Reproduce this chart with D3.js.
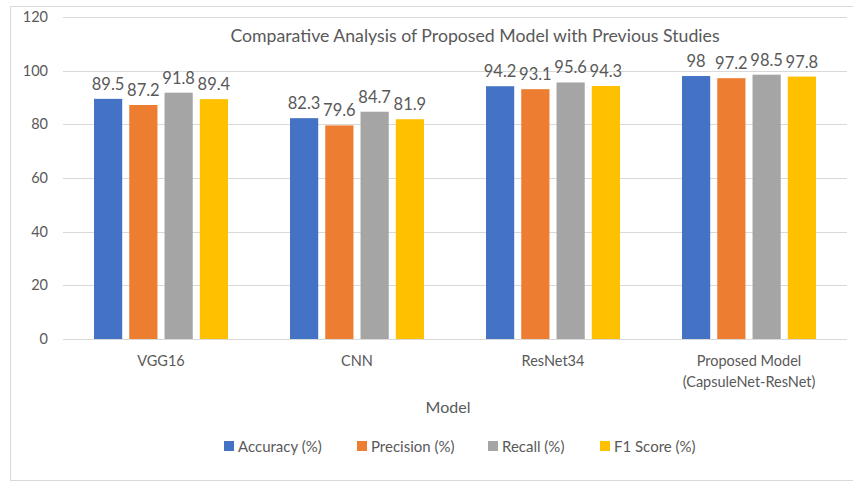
<!DOCTYPE html>
<html>
<head>
<meta charset="utf-8">
<style>
  body { margin: 0; background: #fff; }
  text { font-family: Lato, "Open Sans", sans-serif; fill: #595959; }
</style>
</head>
<body>
<svg width="853" height="483"></svg>
<script src="https://cdn.jsdelivr.net/npm/d3@7"></script>
<script>
var categories = ["VGG16", "CNN", "ResNet34", "Proposed Model\n(CapsuleNet-ResNet)"];
var series = ["Accuracy (%)", "Precision (%)", "Recall (%)", "F1 Score (%)"];
var accuracy = [89.5, 82.3, 94.2, 98];
var precision = [87.2, 79.6, 93.1, 97.2];
var recall = [91.8, 84.7, 95.6, 98.5];
var f1 = [89.4, 81.9, 94.3, 97.8];
var yTicks = [0, 20, 40, 60, 80, 100, 120];
var colors = ["#4472C4", "#ED7D31", "#A5A5A5", "#FFC000"];

var values = [accuracy, precision, recall, f1];

var svg = d3.select("svg");

// chart frame
svg.append("rect")
    .attr("x", 10.5).attr("y", 6.5)
    .attr("width", 850).attr("height", 474)
    .attr("fill", "none").attr("stroke", "#d9d9d9");

var y = d3.scaleLinear().domain([0, 120]).range([339, 17]);
var x0 = d3.scaleBand().domain(categories).range([63, 847]);
var x1 = d3.scaleBand().domain(series).range([31, 165]).paddingInner(0.2);
var color = d3.scaleOrdinal().domain(series).range(colors);

// gridlines
svg.append("g").selectAll("line")
    .data(yTicks)
    .enter().append("line")
      .attr("x1", 63).attr("x2", 847)
      .attr("y1", function(d) { return Math.round(y(d)) + 0.5; })
      .attr("y2", function(d) { return Math.round(y(d)) + 0.5; })
      .attr("stroke", "#d9d9d9")
      .attr("stroke-width", 1);

// y axis labels
var yAxis = d3.axisLeft(y).tickValues(yTicks).tickSize(0).tickPadding(0);
var gy = svg.append("g").attr("transform", "translate(48,0)").call(yAxis);
gy.select(".domain").remove();
gy.selectAll("text").attr("font-size", 14.5).style("font-family", "Lato, sans-serif").attr("fill", "#595959");

// bars
var groups = svg.append("g").selectAll("g")
    .data(categories)
    .enter().append("g")
      .attr("transform", function(d) { return "translate(" + x0(d) + ",0)"; });

groups.each(function(cat, ci) {
  var g = d3.select(this);
  series.forEach(function(s, si) {
    var v = values[si][ci];
    g.append("rect")
      .attr("x", x1(s))
      .attr("y", y(v))
      .attr("width", x1.bandwidth())
      .attr("height", y(0) - y(v))
      .attr("fill", color(s));
    g.append("text")
      .attr("x", x1(s) + x1.bandwidth() / 2)
      .attr("y", y(v) - 9)
      .attr("text-anchor", "middle")
      .attr("font-size", 16.5)
      .attr("fill", "#404040")
      .text(v);
  });
});

// x labels
categories.forEach(function(c) {
  var lines = c.split("\n");
  var t = svg.append("text")
      .attr("x", x0(c) + x0.bandwidth() / 2)
      .attr("y", 366)
      .attr("text-anchor", "middle")
      .attr("font-size", 14.5);
  lines.forEach(function(l, i) {
    t.append("tspan")
      .attr("x", x0(c) + x0.bandwidth() / 2)
      .attr("dy", i === 0 ? 0 : 21)
      .text(l);
  });
});

// title
svg.append("text")
    .attr("x", 475).attr("y", 42)
    .attr("text-anchor", "middle")
    .attr("font-size", 17.7)
    .text("Comparative Analysis of Proposed Model with Previous Studies");

// axis title
svg.append("text")
    .attr("x", 448).attr("y", 413)
    .attr("text-anchor", "middle")
    .attr("font-size", 16)
    .text("Model");

// legend
var legendX = [224, 357, 488, 600];
var legend = svg.append("g").selectAll("g")
    .data(series)
    .enter().append("g")
      .attr("transform", function(d, i) { return "translate(" + legendX[i] + ",441)"; });
legend.append("rect")
    .attr("width", 10).attr("height", 10)
    .attr("fill", function(d) { return color(d); });
legend.append("text")
    .attr("x", 14).attr("y", 10.5)
    .attr("font-size", 15)
    .text(function(d) { return d; });
</script>
</body>
</html>
